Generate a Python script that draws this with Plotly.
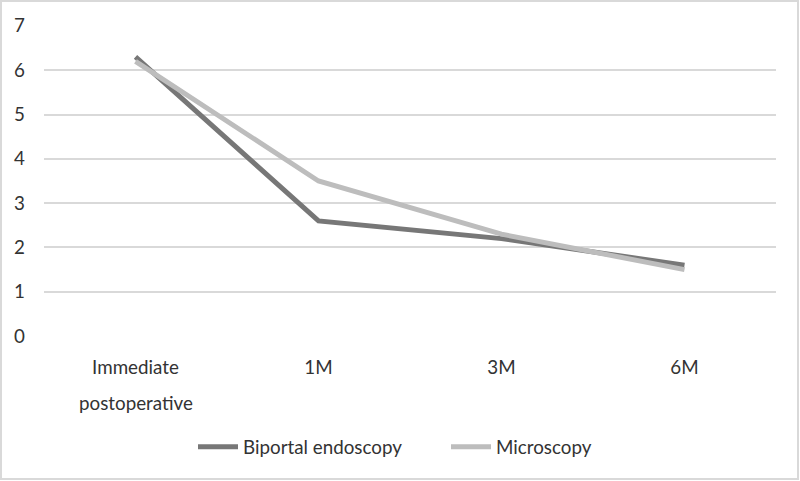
import plotly.graph_objects as go

categories = ["Immediate", "1M", "3M", "6M"]
second_line = ["postoperative", "", "", ""]
biportal = [6.3, 2.6, 2.2, 1.6]
microscopy = [6.2, 3.5, 2.3, 1.5]
y_ticks = [0, 1, 2, 3, 4, 5, 6, 7]

W, H = 800, 481
ML, MR, MT, MB = 44, 24, 25, 144
PW, PH = W - ML - MR, H - MT - MB

font = dict(family="Lato, 'Open Sans', sans-serif", size=18.8, color="#333333")

fig = go.Figure()
fig.add_trace(go.Scatter(x=categories, y=biportal, mode="lines", name="Biportal endoscopy",
                         line=dict(color="#777777", width=5)))
fig.add_trace(go.Scatter(x=categories, y=microscopy, mode="lines", name="Microscopy",
                         line=dict(color="#bdbdbd", width=5)))

for c, t in zip(categories, second_line):
    if t:
        fig.add_annotation(x=c, y=0, xref="x", yref="y", text=t, showarrow=False,
                           yshift=-66, font=font)

fig.add_shape(type="rect", xref="paper", yref="paper",
              x0=(1 - ML) / PW, x1=(W - 2 - ML) / PW,
              y0=-(H - 2 - MT - PH) / PH, y1=1 + (MT - 1) / PH,
              line=dict(color="#d9d9d9", width=2), fillcolor="rgba(0,0,0,0)", layer="below")

fig.update_layout(
    width=W, height=H,
    margin=dict(l=ML, r=MR, t=MT, b=MB, autoexpand=False),
    paper_bgcolor="white", plot_bgcolor="white",
    font=font,
    showlegend=True,
    legend=dict(orientation="h", xref="container", yref="container",
                x=193 / W, xanchor="left", y=34 / H, yanchor="middle",
                font=font, itemwidth=40, entrywidth=198, entrywidthmode="pixels"),
    xaxis=dict(showgrid=False, showline=False, zeroline=False, ticks="", automargin=False,
               ticklabelstandoff=17, range=[-0.5, 3.5]),
    yaxis=dict(range=[-0.02, 7.02], tickvals=y_ticks, showgrid=True, gridcolor="#d9d9d9",
               gridwidth=1.5, zeroline=False, showline=False, ticks="", automargin=False,
               ticklabelstandoff=18),
)

fig.write_html("out.html", config={"displayModeBar": False},
               post_script="document.body.style.margin='0';document.body.style.overflow='hidden';")
